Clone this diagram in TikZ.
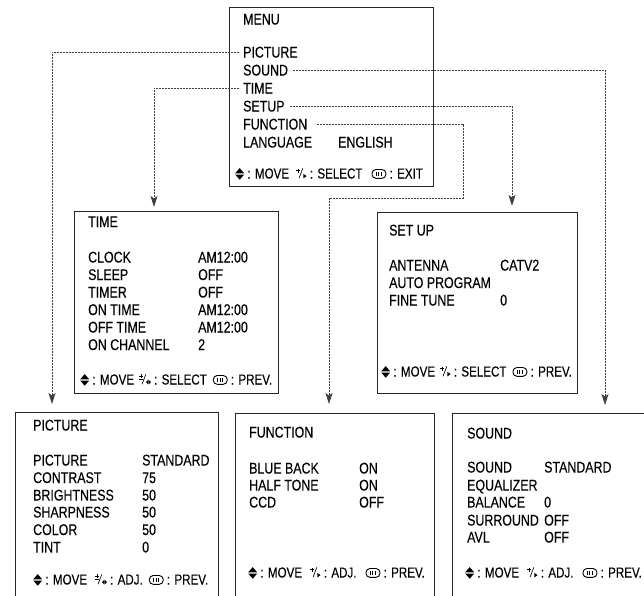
\documentclass[tikz,border=0pt]{standalone}
\usepackage{fontspec}
\setmainfont{Liberation Sans}[FakeStretch=0.8,FakeBold=0.15]
\usetikzlibrary{arrows.meta}
\newcommand\icmove{\tikz[baseline=0pt,x=1pt,y=1pt]{\fill[black] (0,5.2)--(9,5.2)--(4.5,10.4)--cycle (0,4.0)--(9,4.0)--(4.5,-1.2)--cycle;}}
\newcommand\icplus{\tikz[baseline=0pt,x=1pt,y=1pt,line width=0.65pt,solid]{\draw (0,8)--(4,8) (2,6)--(2,10); \draw (2.6,0.3)--(6.4,10.2); \fill (7,0.2)--(7,4.6)--(10.2,2.4)--cycle;}}
\newcommand\icpm{\tikz[baseline=0pt,x=1pt,y=1pt,line width=0.65pt,solid]{\draw (0,8.4)--(4,8.4) (2,6.6)--(2,10.2) (0,5.6)--(4,5.6); \draw (2.6,0.3)--(6.4,10.2); \fill (6.6,2.4)--(8.8,0.2)--(8.8,4.6)--cycle (9.3,0.2)--(9.3,4.6)--(11.5,2.4)--cycle;}}
\newcommand\icmenu{\tikz[baseline=0pt,x=1pt,y=1pt,line width=0.9pt,solid]{\draw[rounded corners=4pt] (0,0.2) rectangle (14,9); \draw[line width=1pt] (4.3,2.2)--(4.3,7) (7,2.2)--(7,7) (9.7,2.2)--(9.7,7);}}
\begin{document}
\begin{tikzpicture}[x=1pt,y=-1pt,
  box/.style={draw=black!85,line width=0.9pt,rectangle,anchor=north west,inner sep=0pt},
  txt/.style={inner sep=0pt,anchor=base west,text height=11pt,text depth=0pt,font=\fontsize{15.5}{18}\selectfont},
  keys/.style={inner sep=0pt,anchor=base west,font=\fontsize{14.5}{17}\selectfont},
  conn/.style={draw=black!75,line width=0.8pt,dash pattern=on 2pt off 1pt,-{Stealth[length=11pt,width=7pt,inset=2.5pt]},shorten >=7pt}]
\useasboundingbox (0,0) rectangle (644,595);
% boxes
\node[box,minimum width=204pt,minimum height=179pt] (bMenu) at (229,7) {};
\node[box,minimum width=204pt,minimum height=182pt] (bTime) at (74,211) {};
\node[box,minimum width=200pt,minimum height=181pt] (bSetup) at (377,212) {};
\node[box,minimum width=203pt,minimum height=200pt] (bPic) at (15,412) {};
\node[box,minimum width=199pt,minimum height=200pt] (bFunc) at (235,413) {};
\node[box,minimum width=210pt,minimum height=200pt] (bSound) at (452,413) {};
% menu
\node[txt] (mTitle) at (243,24.5) {MENU};
\node[txt] (mPic) at (243,57.5) {PICTURE};
\node[txt] (mSound) at (243,75.5) {SOUND};
\node[txt] (mTime) at (243,93.5) {TIME};
\node[txt] (mSetup) at (243,111.5) {SETUP};
\node[txt] (mFunc) at (243,129.5) {FUNCTION};
\node[txt] (mLang) at (243,147.5) {LANGUAGE};
\node[txt] (mLangV) at (338,147.5) {ENGLISH};
\node[keys] (mKeys) at (235,178.5) {\icmove{} : MOVE\hspace{7pt}\icplus{} : SELECT\hspace{9pt}\icmenu{} : EXIT};
% time
\node[txt] (tTitle) at (88,227) {TIME};
\node[txt] (t1) at (88,262.5) {CLOCK};
\node[txt] (t2) at (88,280) {SLEEP};
\node[txt] (t3) at (88,297.5) {TIMER};
\node[txt] (t4) at (88,315) {ON TIME};
\node[txt] (t5) at (88,332.5) {OFF TIME};
\node[txt] (t6) at (88,350) {ON CHANNEL};
\node[txt] (t1v) at (198,262.5) {AM12:00};
\node[txt] (t2v) at (198,280) {OFF};
\node[txt] (t3v) at (198,297.5) {OFF};
\node[txt] (t4v) at (198,315) {AM12:00};
\node[txt] (t5v) at (198,332.5) {AM12:00};
\node[txt] (t6v) at (198,350) {2};
\node[keys] (tKeys) at (80,384.5) {\icmove{} : MOVE\hspace{5pt}\icpm{} : SELECT\hspace{6pt}\icmenu{} : PREV.};
% setup
\node[txt] (sTitle) at (389,235.5) {SET UP};
\node[txt] (s1) at (389,270.5) {ANTENNA};
\node[txt] (s2) at (389,288) {AUTO PROGRAM};
\node[txt] (s3) at (389,305.5) {FINE TUNE};
\node[txt] (s1v) at (500,270.5) {CATV2};
\node[txt] (s3v) at (500,305.5) {0};
\node[keys] (sKeys) at (381,376.5) {\icmove{} : MOVE\hspace{5pt}\icplus{} : SELECT\hspace{6pt}\icmenu{} : PREV.};
% picture
\node[txt] (pTitle) at (33,430.5) {PICTURE};
\node[txt] (p1) at (33,465.5) {PICTURE};
\node[txt] (p2) at (33,483) {CONTRAST};
\node[txt] (p3) at (33,500.5) {BRIGHTNESS};
\node[txt] (p4) at (33,517.5) {SHARPNESS};
\node[txt] (p5) at (33,535) {COLOR};
\node[txt] (p6) at (33,552.5) {TINT};
\node[txt] (p1v) at (142,465.5) {STANDARD};
\node[txt] (p2v) at (142,483) {75};
\node[txt] (p3v) at (142,500.5) {50};
\node[txt] (p4v) at (142,517.5) {50};
\node[txt] (p5v) at (142,535) {50};
\node[txt] (p6v) at (142,552.5) {0};
\node[keys] (pKeys) at (33,584.5) {\icmove{} : MOVE\hspace{8pt}\icpm{} : ADJ.\hspace{6pt}\icmenu{} : PREV.};
% function
\node[txt] (fTitle) at (249,437.5) {FUNCTION};
\node[txt] (f1) at (249,473.5) {BLUE BACK};
\node[txt] (f2) at (249,490.5) {HALF TONE};
\node[txt] (f3) at (249,507.5) {CCD};
\node[txt] (f1v) at (359,473.5) {ON};
\node[txt] (f2v) at (359,490.5) {ON};
\node[txt] (f3v) at (359,507.5) {OFF};
\node[keys] (fKeys) at (248,577.5) {\icmove{} : MOVE\hspace{8pt}\icplus{} : ADJ.\hspace{9pt}\icmenu{} : PREV.};
% sound
\node[txt] (uTitle) at (467,438.5) {SOUND};
\node[txt] (u1) at (467,472.5) {SOUND};
\node[txt] (u2) at (467,490.5) {EQUALIZER};
\node[txt] (u3) at (467,507.5) {BALANCE};
\node[txt] (u4) at (467,525.5) {SURROUND};
\node[txt] (u5) at (467,542.5) {AVL};
\node[txt] (u1v) at (544,472.5) {STANDARD};
\node[txt] (u3v) at (544,507.5) {0};
\node[txt] (u4v) at (544,525.5) {OFF};
\node[txt] (u5v) at (544,542.5) {OFF};
\node[keys] (uKeys) at (465,577.5) {\icmove{} : MOVE\hspace{8pt}\icplus{} : ADJ.\hspace{9pt}\icmenu{} : PREV.};
% connectors
\coordinate (fBend) at (463,198);
\draw[conn,shorten >=8pt] ([xshift=-4pt]mPic.west) -| ([xshift=37pt]bPic.north west);
\draw[conn,shorten >=8pt] ([xshift=5pt]mSound.east) -| ([xshift=153pt]bSound.north west);
\draw[conn,shorten >=4pt] ([xshift=-4pt]mTime.west) -| ([xshift=80pt]bTime.north west);
\draw[conn,shorten >=6pt] ([xshift=5pt]mSetup.east) -| ([xshift=135pt]bSetup.north west);
\draw[conn,shorten >=9pt] ([xshift=10pt]mFunc.east) -| (fBend) -| ([xshift=94pt]bFunc.north west);
\end{tikzpicture}
\end{document}
